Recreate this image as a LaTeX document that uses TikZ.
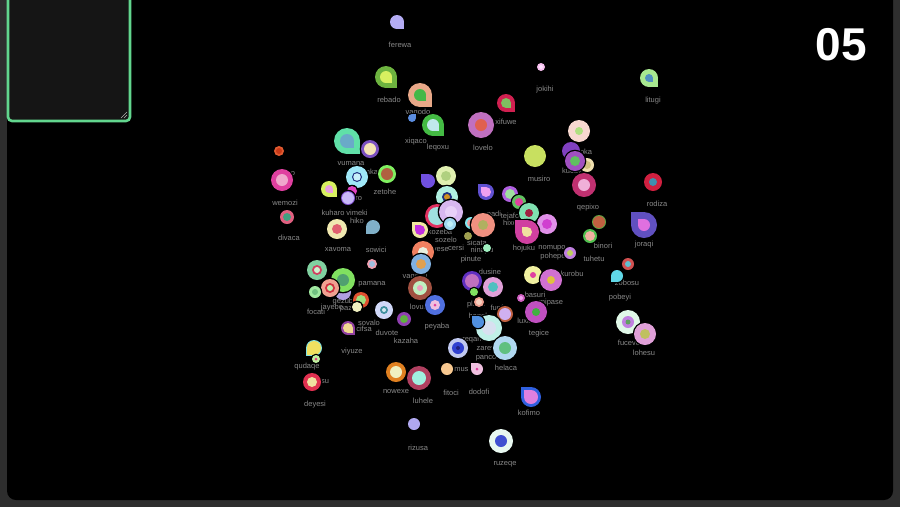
\documentclass[tikz,border=0pt]{standalone}
\usepackage{fontspec}
\setmainfont{Liberation Sans}
\definecolor{bggray}{HTML}{2E2E2E}
\definecolor{greenbox}{HTML}{62D68E}
\definecolor{boxfill}{HTML}{151515}
\definecolor{lblgray}{HTML}{8A8A8A}
\tikzset{lbl/.style={text=lblgray,font=\fontsize{7.5}{8}\selectfont,inner sep=0pt}}
% blob: x y r outer ri inner corner(0 none,1 bl,2 br,3 tr,4 tl)
\newcommand\B[7]{%
  \definecolor{bo}{HTML}{#4}\definecolor{bi}{HTML}{#6}%
  \fill[black] (#1,#2) circle[radius=#3pt+1.3pt];
  \ifcase#7\or \fill[black] (#1,#2) rectangle ++(-#3-1.3,#3+1.3);
  \or \fill[black] (#1,#2) rectangle ++(#3+1.3,#3+1.3);
  \or \fill[black] (#1,#2) rectangle ++(#3+1.3,-#3-1.3);
  \or \fill[black] (#1,#2) rectangle ++(-#3-1.3,-#3-1.3);\fi
  \fill[bo] (#1,#2) circle[radius=#3pt];
  \ifcase#7\or \fill[bo] (#1,#2) rectangle ++(-#3,#3);
  \or \fill[bo] (#1,#2) rectangle ++(#3,#3);
  \or \fill[bo] (#1,#2) rectangle ++(#3,-#3);
  \or \fill[bo] (#1,#2) rectangle ++(-#3,-#3);\fi
  \ifdim #5pt>0pt
    \fill[bi] (#1,#2) circle[radius=#5pt];
    \ifcase#7\or \fill[bi] (#1,#2) rectangle ++(-#5,#5);
    \or \fill[bi] (#1,#2) rectangle ++(#5,#5);
    \or \fill[bi] (#1,#2) rectangle ++(#5,-#5);
    \or \fill[bi] (#1,#2) rectangle ++(-#5,-#5);\fi
  \fi}
\newcommand\C[4]{\definecolor{bc}{HTML}{#4}\fill[bc] (#1,#2) circle[radius=#3pt];}
\newcommand\Lb[3]{\node[lbl] (n#3) at (#1,#2) {#3};}
\begin{document}
\begin{tikzpicture}[x=1pt,y=-1pt]
\useasboundingbox (0,0) rectangle (900,507);
\fill[bggray] (0,0) rectangle (900,507);
\fill[black,rounded corners=9pt] (7,-20) rectangle (893,500);
\draw[greenbox,line width=2.6pt,fill=boxfill,rounded corners=4pt] (8,-10) rectangle (130,121);
\draw[gray!60,line width=0.6pt] (121,118) -- (127,112) (124,118) -- (127,115);
\node[text=white,font=\bfseries\fontsize{46}{46}\selectfont,inner sep=0pt] (num) at (841,45) {05};
% labels
\Lb{400}{45}{ferewa}
\Lb{389}{100}{rebado}
\Lb{418}{113}{vagodo}
\Lb{416}{142}{xiqaco}
\Lb{438}{148}{leqoxu}
\Lb{545}{90}{jokihi}
\Lb{653}{101}{litugi}
\Lb{506}{122}{xifuwe}
\Lb{483}{148}{lovelo}
\Lb{351}{164}{vumana}
\Lb{368}{172}{zanka}
\Lb{385}{192}{zetohe}
\Lb{285}{203}{wemozi}
\Lb{284}{174}{pelazo}
\Lb{333}{213}{kuharo}
\Lb{357}{213}{vimeki}
\Lb{357}{221}{hiko}
\Lb{356}{198}{ziro}
\Lb{289}{238}{divaca}
\Lb{338}{250}{xavoma}
\Lb{376}{250}{sowici}
\Lb{539}{179}{musiro}
\Lb{584}{152}{noka}
\Lb{574}{171}{kucuvo}
\Lb{584}{184}{pexizo}
\Lb{588}{208}{qepixo}
\Lb{657}{204}{rodiza}
\Lb{644}{245}{joraqi}
\Lb{603}{246}{binori}
\Lb{594}{259}{tuhetu}
\Lb{627}{283}{zobosu}
\Lb{620}{298}{pobeyi}
\Lb{629}{343}{fucevo}
\Lb{644}{353}{lohesu}
\Lb{572}{274}{kurobu}
\Lb{551}{303}{mipase}
\Lb{535}{295}{basuri}
\Lb{539}{334}{tegice}
\Lb{527}{321}{luxico}
\Lb{524}{249}{hojuku}
\Lb{552}{248}{nomupo}
\Lb{553}{257}{pohepe}
\Lb{510}{217}{tejafo}
\Lb{514}{223}{hixoke}
\Lb{490}{215}{xopadi}
\Lb{440}{232}{kozeba}
\Lb{446}{240}{sozelo}
\Lb{438}{249}{luvese}
\Lb{456}{248}{cersi}
\Lb{477}{243}{sicata}
\Lb{482}{251}{ninapu}
\Lb{471}{260}{pinute}
\Lb{490}{272}{dusine}
\Lb{415}{277}{vagodu}
\Lb{372}{284}{pamana}
\Lb{345}{302}{gezubo}
\Lb{332}{308}{jayebo}
\Lb{350}{309}{pazza}
\Lb{316}{312}{focati}
\Lb{421}{307}{lovuhe}
\Lb{437}{327}{peyaba}
\Lb{369}{323}{sovalo}
\Lb{364}{329}{cifsa}
\Lb{387}{333}{duvote}
\Lb{406}{341}{kazaha}
\Lb{352}{352}{viyuze}
\Lb{307}{367}{qudaqe}
\Lb{476}{305}{plasu}
\Lb{481}{316}{haneko}
\Lb{499}{308}{funfe}
\Lb{474}{340}{reqane}
\Lb{488}{349}{zarevo}
\Lb{486}{358}{panco}
\Lb{506}{368}{helaca}
\Lb{458}{370}{ramus}
\Lb{321}{382}{posu}
\Lb{315}{405}{deyesi}
\Lb{396}{392}{nowexe}
\Lb{423}{401}{luhele}
\Lb{451}{393}{fitoci}
\Lb{479}{392}{dodofi}
\Lb{529}{413}{kofimo}
\Lb{418}{448}{rizusa}
\Lb{505}{464}{ruzeqe}
% blobs top
\B{397}{22}{7}{B4ACF4}{0}{000000}{2}
\B{386}{77}{11}{6DB33F}{6}{D8F060}{2}
\B{420}{95}{12}{E8A888}{6}{44B848}{2}
\B{412}{118}{4}{5B8DE0}{0}{000000}{3}
\B{433}{125}{11}{44BB44}{6}{C0E8EC}{2}
\B{347}{141}{13}{60E0A8}{7}{6AAAC8}{2}
\B{370}{149}{9}{7B50C0}{6}{F5E3B5}{0}
\B{279}{151}{5}{E05A30}{3}{C83818}{0}
\B{541}{67}{4}{F8C0F0}{2}{FFE0FF}{0}
\B{649}{78}{9}{A8E890}{4}{5090C0}{2}
\B{506}{103}{9}{D02050}{5}{80C060}{2}
\B{481}{125}{13}{C070C0}{6}{E06050}{0}
\B{535}{156}{11}{C8E060}{0}{000000}{0}
\B{579}{131}{11}{F8D8D0}{4}{B0E080}{0}
\B{571}{151}{9}{8040C0}{0}{000000}{0}
\B{587}{165}{7}{F0E0B0}{4}{D0C080}{0}
\B{575}{161}{10}{A050C0}{5}{60C060}{0}
\B{584}{185}{12}{C03070}{6}{F0B0D8}{0}
\B{653}{182}{9}{D02040}{4}{4090B0}{0}
% left
\B{282}{180}{11}{E040A0}{6}{F0A8CC}{0}
\B{287}{217}{7}{E06080}{4}{40A080}{0}
\B{329}{189}{8}{D8F060}{4}{E8A0E0}{2}
\B{357}{177}{11}{A0E8F8}{5}{203080}{0}
\C{357}{177}{3.8}{C8F0FA}
\B{387}{174}{9}{80F060}{6}{B06040}{0}
\B{352}{191}{5}{E040C0}{0}{000000}{0}
\B{348}{198}{7}{8050D0}{6}{C8B8F8}{0}
\B{337}{229}{10}{F0E8B0}{5}{E06070}{0}
\B{373}{227}{7}{80B0C8}{0}{000000}{1}
% center cluster
\B{428}{181}{7}{7050E0}{0}{000000}{4}
\B{446}{176}{10}{E0F0B0}{5}{B0D080}{0}
\B{447}{197}{11}{B0F0E0}{5}{203080}{0}
\C{447}{197}{3}{D09020}
\B{437}{216}{12}{E03060}{9}{A0E0E0}{0}
\B{451}{212}{12}{D8B8F0}{6}{E8D0F8}{0}
\B{450}{224}{6}{A0D8F0}{3}{C0F0F8}{0}
\B{471}{223}{6}{80E8F0}{4}{F0A0A0}{0}
\B{483}{225}{12}{F09080}{5}{B0B060}{0}
\B{468}{236}{4}{A0A050}{0}{000000}{0}
\B{487}{248}{4}{A0F0C0}{0}{000000}{0}
\B{486}{192}{8}{6050D0}{5}{F0A0F0}{4}
\B{510}{194}{8}{B060E0}{5}{A0E0A0}{0}
\B{519}{202}{7}{60C060}{4}{E040A0}{0}
\B{529}{213}{10}{80E0B0}{4}{A02040}{0}
\B{547}{224}{10}{E090E8}{5}{D040D0}{0}
\B{527}{232}{12}{D040A0}{5}{F0E0A0}{4}
\B{420}{230}{8}{F0E8A0}{5}{C030E0}{4}
\B{423}{252}{11}{F08060}{5}{E8F0E0}{0}
\B{421}{264}{10}{80B0E0}{5}{E0A050}{0}
% right
\B{599}{222}{7}{60A040}{6}{C06040}{0}
\B{590}{236}{7}{50C050}{5}{F0B0A0}{0}
\B{644}{225}{13}{6050C0}{6}{E070E0}{4}
\B{570}{253}{6}{C080E0}{3}{C0D060}{0}
\B{628}{264}{6}{D05050}{3}{60C0D0}{0}
\B{617}{276}{6}{60D8E8}{0}{000000}{1}
\B{533}{275}{9}{F0F0A0}{3}{E040A0}{0}
\B{551}{280}{11}{D070D0}{4}{E0C040}{0}
\B{628}{322}{12}{E0F8E8}{6}{C080E0}{0}
\C{628}{322}{2.5}{60A060}
\B{645}{334}{11}{E0A0D8}{5}{C0C060}{0}
% lower left
\B{317}{270}{10}{80D0A0}{5}{D04060}{0}
\C{317}{270}{3}{D0F0D0}
\C{343}{292}{8}{B0A0E0}
\B{343}{280}{12}{80E060}{6}{50A070}{0}
\B{330}{288}{9}{F0A090}{5}{D03040}{0}
\C{330}{288}{3}{C0F0B0}
\B{315}{292}{6}{A0E8A0}{3}{70C080}{0}
\B{372}{264}{5}{F0A0B0}{3}{A0C0E0}{0}
\B{361}{300}{8}{E05030}{5}{A0E080}{0}
\B{357}{307}{5}{F0F0C0}{0}{000000}{0}
\B{384}{310}{9}{D0D8F8}{4}{4090A0}{0}
\C{384}{310}{2}{D0E8F0}
\B{420}{288}{12}{A05040}{7}{C0F0C0}{0}
\C{420}{288}{3}{F0A0C0}
\B{435}{305}{10}{5070E0}{5}{F0C0E0}{0}
\C{435}{305}{1.5}{E040A0}
\B{404}{319}{7}{9040B0}{4}{60B040}{0}
\B{348}{328}{7}{9040A0}{5}{F0D890}{2}
\B{314}{348}{8}{80E0E0}{7}{F0E060}{1}
\B{316}{359}{4}{C0F0A0}{1.5}{E04080}{0}
% lower center
\B{472}{281}{10}{6030C0}{7}{C070C0}{0}
\B{493}{287}{10}{E0A0D8}{5}{50C0C0}{0}
\B{474}{292}{4}{80E060}{0}{000000}{0}
\B{479}{302}{5}{F0A090}{3}{F8D0C0}{0}
\B{521}{298}{4}{D060C0}{2}{F0A0F0}{0}
\B{505}{314}{8}{C06040}{6}{D0B0F0}{0}
\B{489}{328}{13}{C0F0E8}{7}{D8E0F0}{0}
\B{478}{322}{6}{5090E0}{0}{000000}{4}
\B{536}{312}{11}{C050C0}{4}{40B040}{0}
\B{458}{348}{10}{C0C8F0}{6}{3040D0}{0}
\C{458}{348}{2}{202080}
\B{505}{348}{12}{B0D8F0}{6}{60C080}{0}
\B{447}{369}{6}{F8C890}{0}{000000}{0}
\B{477}{369}{6}{F0C0E0}{1.5}{E040A0}{4}
\B{312}{382}{9}{E03050}{5}{F0E0A0}{0}
\B{396}{372}{10}{E08020}{6}{F0F0C0}{0}
\B{419}{378}{12}{B04060}{7}{A0F0E0}{0}
\B{531}{397}{10}{3060E0}{7}{E080E0}{4}
\B{414}{424}{6}{B0A8F0}{0}{000000}{0}
\B{501}{441}{12}{E8F8F0}{6}{4050D0}{0}
\end{tikzpicture}
\end{document}
